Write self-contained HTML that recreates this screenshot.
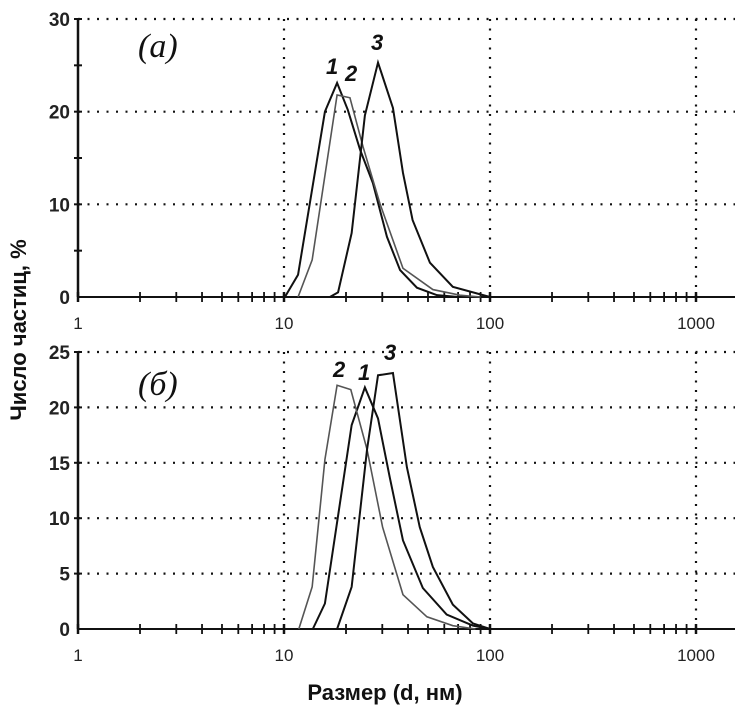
<!DOCTYPE html>
<html><head><meta charset="utf-8"><style>
html,body{margin:0;padding:0;background:#fff;}
svg{display:block;font-family:"Liberation Sans",sans-serif;}
</style></head><body>
<svg id="c" width="742" height="719" viewBox="0 0 742 719">
<text x="385" y="700" text-anchor="middle" font-size="22" font-weight="bold" fill="#111">Размер (d, нм)</text>
<text transform="translate(26,330) rotate(-90)" text-anchor="middle" font-size="22" font-weight="bold" fill="#111">Число частиц, %</text>
</svg>
<script>
const xTicks=[1,10,100,1000];
const xTickLabels=["1","10","100","1000"];
const topYTicks=[0,10,20,30];
const botYTicks=[0,5,10,15,20,25];
const topC1x=[10.1,11.7,15.8,18.1,20.4,23.4,27,31.6,36.6,44.2,55.3,70];
const topC1y=[0,2.4,20,23.1,20.2,15.9,12.3,6.5,2.9,1,0.2,0];
const topC2x=[11.7,13.7,18.1,20.9,24.2,29.2,37.8,52.8,71.5,90];
const topC2y=[0,4,21.8,21.5,16.2,10.1,3.1,0.8,0.2,0];
const topC3x=[16.7,18.3,21.3,24.7,28.6,33.8,37.8,42.1,51.1,66,100];
const topC3y=[0,0.5,6.9,19.6,25.3,20.4,13.4,8.3,3.7,1.1,0];
const botC1x=[13.8,15.8,21.3,24.7,28.6,32.6,37.8,47.2,61.6,82.7,100];
const botC1y=[0,2.3,18.4,21.8,19,13.7,8,3.7,1.3,0.3,0];
const botC2x=[11.8,13.7,15.8,18.1,21.1,25.3,30.1,37.8,49.4,66,85];
const botC2y=[0,3.8,15.3,22,21.6,16.2,9.2,3.1,1.1,0.3,0];
const botC3x=[18.1,21.3,25.3,28.6,33.8,39.5,45.6,52.8,66,82.7,100];
const botC3y=[0,3.8,16.2,22.9,23.1,14.6,9.2,5.6,2.2,0.5,0];

const svg=document.getElementById('c');
const NS='http://www.w3.org/2000/svg';
const X0=78,DEC=206,XR=735;
function xs(d){return X0+Math.log10(d)*DEC;}
function mk(t,a){const e=document.createElementNS(NS,t);for(const k in a)e.setAttribute(k,a[k]);svg.appendChild(e);return e;}

function panel(name,y0,yTop,ymax,yticks,minor,series,labels,plabel){
  const ys=v=>y0-(v/ymax)*(y0-yTop);
  // grid
  xTicks.slice(1).forEach(t=>{
    const g=mk('line',{x1:xs(t),x2:xs(t),y1:yTop,y2:y0,stroke:'#111','stroke-width':2.2,'stroke-dasharray':'2 7.5'});
    
    
  });
  yticks.slice(1).forEach(t=>{
    const g=mk('line',{x1:X0,x2:XR,y1:ys(t),y2:ys(t),stroke:'#111','stroke-width':2.2,'stroke-dasharray':'2 7.5'});
    
    
    const tk=mk('line',{x1:X0-4,x2:X0+4,y1:ys(t),y2:ys(t),stroke:'#111','stroke-width':2});
    
    
  });
  minor.forEach(t=>{
    const tk=mk('line',{x1:X0-4,x2:X0+4,y1:ys(t),y2:ys(t),stroke:'#111','stroke-width':2});
    
    
  });
  yticks.forEach(t=>{
    const l=mk('text',{x:X0-8,y:ys(t)+7,'text-anchor':'end','font-size':19,'font-weight':'bold',fill:'#222'});
    l.textContent=String(t);
    
    
  });
  // axes
  const ya=mk('line',{x1:X0,x2:X0,y1:yTop,y2:y0,stroke:'#111','stroke-width':2.5});
  
  
  const xa=mk('line',{x1:X0,x2:XR,y1:y0,y2:y0,stroke:'#111','stroke-width':2});
  
  
  for(let dec=1;dec<=1000;dec*=10){for(let m=1;m<10;m++){const v=dec*m;if(v>1000&&m>1)break;const px=xs(v);if(px>XR)break;
    const tk=mk('line',{x1:px,x2:px,y1:y0-5,y2:y0+5,stroke:'#111','stroke-width':m===1?2.5:1.8});
    
    }}
  xTicks.forEach((t,i)=>{
    const l=mk('text',{x:xs(t),y:y0+32,'text-anchor':'middle','font-size':17,fill:'#222'});
    l.textContent=xTickLabels[i];
    
    
  });
  series.forEach((s,i)=>{
    const p=mk('polyline',{points:s.x.map((d,j)=>xs(d)+','+ys(s.y[j])).join(' '),fill:'none',stroke:s.c,'stroke-width':s.w,'stroke-linejoin':'miter'});
    
    
  });
  labels.forEach(L=>{
    const t=mk('text',{x:L[0],y:L[1],'font-size':22,'font-weight':'bold','font-style':'italic',fill:'#111'});
    t.textContent=L[2];
    
    
  });
  const pl=mk('text',{x:138,y:plabel,'font-size':34,'font-style':'italic','font-family':'Liberation Serif, serif',fill:'#111'});
  pl.textContent=plabel<200?'(a)':'(б)';
  
  
}
panel('top',297,19,30,topYTicks,[5,15,25],[
  {n:1,x:topC1x,y:topC1y,c:'#111',w:2},
  {n:2,x:topC2x,y:topC2y,c:'#555',w:1.6},
  {n:3,x:topC3x,y:topC3y,c:'#111',w:2}],
  [[326,74,'1'],[345,81,'2'],[371,50,'3']],57);
panel('bottom',629,352,25,botYTicks,[],[
  {n:1,x:botC1x,y:botC1y,c:'#111',w:2},
  {n:2,x:botC2x,y:botC2y,c:'#555',w:1.6},
  {n:3,x:botC3x,y:botC3y,c:'#111',w:2}],
  [[333,377,'2'],[358,380,'1'],[384,360,'3']],395);
</script>
</body></html>
